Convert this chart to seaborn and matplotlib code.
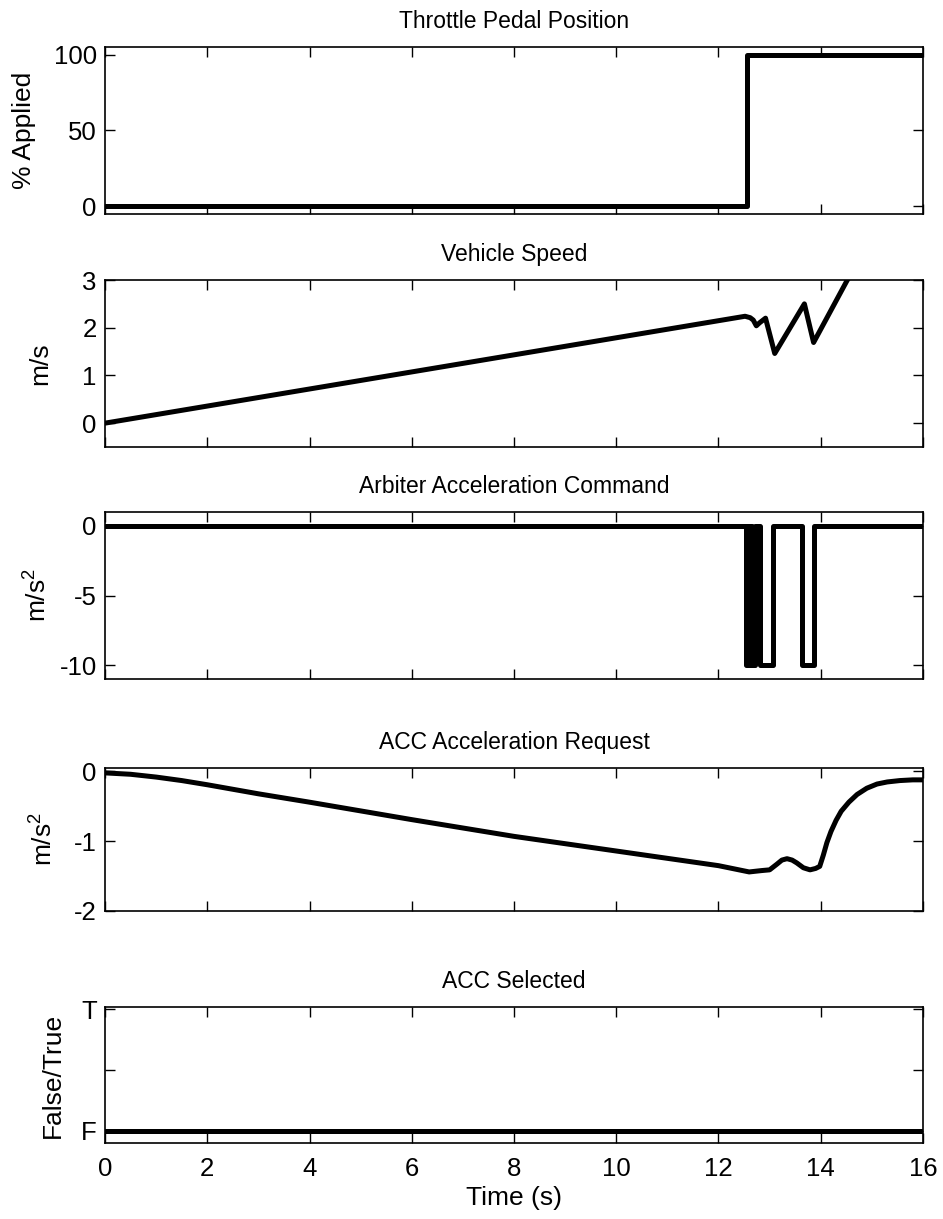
import numpy as np
import pandas as pd
import matplotlib
matplotlib.use("Agg")
import matplotlib.pyplot as plt
import seaborn as sns

# ---------------- data ----------------
throttle_t = [0.0, 12.55, 12.55, 16.0]
throttle_v = [0.0, 0.0, 100.0, 100.0]

speed_t = [0.0, 12.52, 12.62, 12.68, 12.74, 12.8, 12.92, 13.1, 13.68, 13.86, 14.52, 15.0]
speed_v = [0.0, 2.24, 2.21, 2.16, 2.04, 2.1, 2.2, 1.46, 2.5, 1.69, 3.0, 3.7]

arb_t = [0.0, 12.53, 12.58, 12.60, 12.64, 12.66, 12.71, 12.81, 13.07, 13.63, 13.86, 16.0]
arb_v = [0.0, -10.0, 0.0, -10.0, 0.0, -10.0, 0.0, -10.0, 0.0, -10.0, 0.0, 0.0]

req_t = [0.0, 0.5, 1.0, 1.5, 2.0, 3.0, 4.0, 6.0, 8.0, 10.0, 12.0, 12.6, 12.85, 13.0,
         13.14, 13.24, 13.34, 13.44, 13.53, 13.66, 13.79, 13.9, 13.98, 14.05, 14.12,
         14.2, 14.3, 14.4, 14.55, 14.71, 14.9, 15.1, 15.3, 15.55, 15.8, 16.0]
req_v = [-0.02, -0.04, -0.08, -0.13, -0.19, -0.32, -0.44, -0.69, -0.93, -1.14, -1.35,
         -1.44, -1.42, -1.41, -1.33, -1.27, -1.25, -1.27, -1.31, -1.38, -1.41, -1.39,
         -1.36, -1.2, -1.02, -0.86, -0.7, -0.57, -0.44, -0.33, -0.24, -0.18, -0.15,
         -0.13, -0.12, -0.12]

sel_t = [0.0, 16.0]
sel_v = [0.0, 0.0]

titles = ["Throttle Pedal Position", "Vehicle Speed", "Arbiter Acceleration Command",
          "ACC Acceleration Request", "ACC Selected"]
ylabels = ["% Applied", "m/s", "m/s$^2$", "m/s$^2$", "False/True"]
x_ticks = [0, 2, 4, 6, 8, 10, 12, 14, 16]

# ---------------- style ----------------
sns.set_style("ticks")
plt.rcParams["font.family"] = ["Liberation Sans", "DejaVu Sans"]
plt.rcParams["axes.unicode_minus"] = False
plt.rcParams["mathtext.fontset"] = "custom"
plt.rcParams["mathtext.rm"] = "Liberation Sans"
plt.rcParams["mathtext.it"] = "Liberation Sans"
for k in ["text.color", "axes.labelcolor", "xtick.color", "ytick.color", "axes.edgecolor"]:
    plt.rcParams[k] = "black"

fig = plt.figure(figsize=(9.43, 12.19), dpi=100)
W, H = 943.0, 1219.0
left, right = 105, 923
boxes = [(47, 214), (280, 447), (512, 679), (768, 911), (1007, 1143)]
label_x = [24, 40, 40, 46, 53]   # visual centre of y-label in pixels
axes = []
for top, bot in boxes:
    ax = fig.add_axes([left / W, 1 - bot / H, (right - left) / W, (bot - top) / H])
    axes.append(ax)

series = [
    (throttle_t, throttle_v, None),
    (speed_t, speed_v, None),
    (arb_t, arb_v, "steps-post"),
    (req_t, req_v, None),
    (sel_t, sel_v, None),
]
ylims = [(-5, 105), (-0.5, 3), (-11, 1), (-2, 0.05), (-0.1, 1.02)]
yticks = [[0, 50, 100], [0, 1, 2, 3], [-10, -5, 0], [-2, -1, 0], [0, 0.5, 1]]

for i, ax in enumerate(axes):
    t, v, ds = series[i]
    df = pd.DataFrame({"t": t, "v": v})
    kw = {}
    if ds:
        kw["drawstyle"] = ds
    sns.lineplot(data=df, x="t", y="v", ax=ax, color="black", linewidth=3.6,
                 estimator=None, sort=False, **kw)
    ax.set_xlim(0, 16)
    ax.set_ylim(*ylims[i])
    ax.set_xticks(x_ticks)
    ax.set_yticks(yticks[i])
    ax.set_title(titles[i], fontsize=16.5, pad=14)
    ax.set_ylabel(ylabels[i], fontsize=19)
    ax.set_xlabel("")
    ax.tick_params(direction="in", top=True, right=True, length=7, width=1,
                   labelsize=18.5, colors="black")
    ax.tick_params(axis="y", pad=6)
    ax.tick_params(axis="x", pad=10)
    for s in ax.spines.values():
        s.set_visible(True)
        s.set_linewidth(1.2)
        s.set_color("black")
    if i < 4:
        ax.set_xticklabels([])
    # place y-label: right edge of rotated text ~ centre + 12 px
    ax.yaxis.set_label_coords((label_x[i] + 12 - left) / (right - left), 0.5)

axes[4].set_yticklabels(["F", "", "T"])
axes[4].set_xticklabels([str(x) for x in x_ticks])
axes[4].set_xlabel("Time (s)", fontsize=19, labelpad=4)

fig.savefig("out.png", dpi=100)
